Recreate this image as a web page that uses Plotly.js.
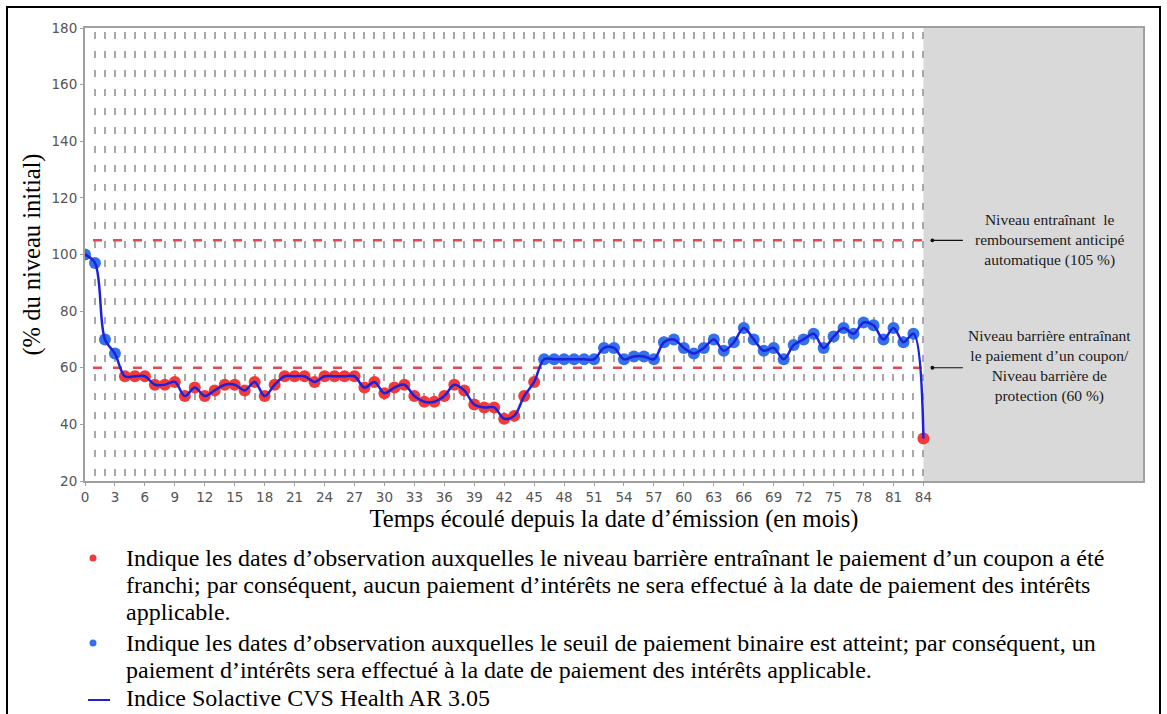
<!DOCTYPE html>
<html><head><meta charset="utf-8">
<script src="https://cdn.plot.ly/plotly-3.0.1.min.js"></script>
<style>html,body{margin:0;padding:0;background:#fff}#chart{width:1167px;height:714px}</style>
</head><body><div id="chart"></div>
<script>
// ---- data ----
const months = [0,1,2,3,4,5,6,7,8,9,10,11,12,13,14,15,16,17,18,19,20,21,22,23,24,25,26,27,28,29,30,31,32,33,34,35,36,37,38,39,40,41,42,43,44,45,46,47,48,49,50,51,52,53,54,55,56,57,58,59,60,61,62,63,64,65,66,67,68,69,70,71,72,73,74,75,76,77,78,79,80,81,82,83,84];
const levels = [100,97,70,65,57,57,57,54,54,55,50,53,50,52,54,54,52,55,50,54,57,57,57,55,57,57,57,57,53,55,51,53,54,50,48,48,50,54,52,47,46,46,42,43,50,55,63,63,63,63,63,63,67,67,63,64,64,63,69,70,67,65,67,70,66,69,74,70,66,67,63,68,70,72,67,71,74,72,76,75,70,74,69,72,35];
const xTickVals = [0,3,6,9,12,15,18,21,24,27,30,33,36,39,42,45,48,51,54,57,60,63,66,69,72,75,78,81,84];
const xTickText = ['0','3','6','9','12','15','18','21','24','27','30','33','36','39','42','45','48','51','54','57','60','63','66','69','72','75','78','81','84'];
const gridMonths = [1,2,3,4,5,6,7,8,9,10,11,12,13,14,15,16,17,18,19,20,21,22,23,24,25,26,27,28,29,30,31,32,33,34,35,36,37,38,39,40,41,42,43,44,45,46,47,48,49,50,51,52,53,54,55,56,57,58,59,60,61,62,63,64,65,66,67,68,69,70,71,72,73,74,75,76,77,78,79,80,81,82,83,84];
const yTickVals = [20,40,60,80,100,120,140,160,180];
const autocallLevel = 105;
const couponBarrier = 60;
const maturityMonth = 84;
const axisEndMonth = 106;
const autocallLabel = 'Niveau entraînant  le<br>remboursement anticipé<br>automatique (105 %)';
const barrierLabel = 'Niveau barrière entraînant<br>le paiement d’un coupon/<br>Niveau barrière de<br>protection (60 %)';
const legendRed = ['Indique les dates d’observation auxquelles le niveau barrière entraînant le paiement d’un coupon a été',
  'franchi; par conséquent, aucun paiement d’intérêts ne sera effectué à la date de paiement des intérêts',
  'applicable.'];
const legendBlue = ['Indique les dates d’observation auxquelles le seuil de paiement binaire est atteint; par conséquent, un',
  'paiement d’intérêts sera effectué à la date de paiement des intérêts applicable.'];
const legendLine = 'Indice Solactive CVS Health AR 3.05';
const xTitle = 'Temps écoulé depuis la date d’émission (en mois)';
const yTitle = '(% du niveau initial)';

// ---- style ----
const RED = '#f23a3a', BLUE_MK = '#3370ea', BLUE_LN = '#1c22dc', GRID = '#a8a8a8';
const L = 85, R = 1143, T = 28, B = 481;
const px = v => (v - L) / (R - L);
const py = v => (B - v) / (B - T);
const serif = 'Liberation Serif, Times New Roman, serif';

const markerColors = levels.map(v => v < couponBarrier ? RED : BLUE_MK);

const traces = [
  {x: months, y: levels, type: 'scatter', mode: 'markers',
   marker: {size: 12, color: markerColors, line: {width: 0}}, hoverinfo: 'skip', showlegend: false},
  {x: months, y: levels, type: 'scatter', mode: 'lines',
   line: {color: BLUE_LN, width: 2.5, shape: 'spline', smoothing: 1}, showlegend: false}
];

const shapes = [
  {type: 'rect', xref: 'x', yref: 'paper', x0: maturityMonth, x1: axisEndMonth, y0: 0, y1: 1,
   fillcolor: '#d9d9d9', line: {width: 0}, layer: 'below'},
  {type: 'line', xref: 'x', yref: 'y', x0: 0.8, x1: maturityMonth, y0: autocallLevel, y1: autocallLevel,
   line: {color: '#e8474f', width: 2.5, dash: '9px,11px'}, layer: 'between'},
  {type: 'line', xref: 'x', yref: 'y', x0: 0.8, x1: maturityMonth, y0: couponBarrier, y1: couponBarrier,
   line: {color: '#e8474f', width: 2.5, dash: '9px,11px'}, layer: 'between'},
  // outer frame
  {type: 'rect', xref: 'paper', yref: 'paper', x0: px(7), x1: px(1160), y0: py(730), y1: py(7),
   line: {color: '#000', width: 2}, fillcolor: 'rgba(0,0,0,0)', layer: 'above'},
  // legend symbols
  {type: 'circle', xref: 'paper', yref: 'paper', xsizemode: 'pixel', ysizemode: 'pixel',
   xanchor: px(93), yanchor: py(558), x0: -3.5, x1: 3.5, y0: -3.5, y1: 3.5, fillcolor: RED, line: {width: 0}},
  {type: 'circle', xref: 'paper', yref: 'paper', xsizemode: 'pixel', ysizemode: 'pixel',
   xanchor: px(93), yanchor: py(643), x0: -3.5, x1: 3.5, y0: -3.5, y1: 3.5, fillcolor: BLUE_MK, line: {width: 0}},
  {type: 'line', xref: 'paper', yref: 'paper', x0: px(88), x1: px(110), y0: py(700), y1: py(700),
   line: {color: BLUE_LN, width: 2}}
];

const annotations = [
  {xref: 'x', yref: 'y', x: maturityMonth + 0.9, y: autocallLevel, text: '', showarrow: true,
   ax: 32, ay: 0, arrowhead: 6, arrowsize: 0.8, arrowwidth: 1.2, arrowcolor: '#111'},
  {xref: 'x', yref: 'y', x: maturityMonth + 0.9, y: couponBarrier, text: '', showarrow: true,
   ax: 32, ay: 0, arrowhead: 6, arrowsize: 0.8, arrowwidth: 1.2, arrowcolor: '#111'},
  {xref: 'paper', yref: 'paper', x: px(1049), y: py(240), text: autocallLabel, showarrow: false,
   xanchor: 'center', yanchor: 'middle', align: 'center', font: {family: serif, size: 15.5, color: '#1a1a1a'}},
  {xref: 'paper', yref: 'paper', x: px(1049), y: py(366), text: barrierLabel, showarrow: false,
   xanchor: 'center', yanchor: 'middle', align: 'center', font: {family: serif, size: 15.5, color: '#1a1a1a'}}
];
const legendLines = [
  [legendRed[0], 558], [legendRed[1], 585], [legendRed[2], 612],
  [legendBlue[0], 643], [legendBlue[1], 670], [legendLine, 698]
];
legendLines.forEach(([t, yy]) => annotations.push({
  xref: 'paper', yref: 'paper', x: px(124), y: py(yy), text: t, showarrow: false,
  xanchor: 'left', yanchor: 'middle', align: 'left', font: {family: serif, size: 24, color: '#000'}
}));

const layout = {
  width: 1167, height: 714,
  margin: {l: L, r: 1167 - R, t: T, b: 714 - B},
  paper_bgcolor: '#fff', plot_bgcolor: '#fff',
  showlegend: false,
  xaxis: {
    range: [0, axisEndMonth], tickmode: 'array', tickvals: xTickVals, ticktext: xTickText,
    showgrid: true, gridcolor: GRID, gridwidth: 2, griddash: '0px,4px,7px,8px',
    minor: {tickmode: 'array', tickvals: gridMonths, showgrid: true, gridcolor: GRID, gridwidth: 2,
            griddash: '0px,4px,7px,8px', ticks: ''},
    showline: true, linecolor: '#a0a0a0', linewidth: 2, mirror: true,
    ticks: 'outside', ticklen: 3, tickcolor: '#a0a0a0', zeroline: false,
    tickfont: {family: 'DejaVu Sans, sans-serif', size: 13.5, color: '#555'},
    title: {text: xTitle, font: {family: serif, size: 24.5, color: '#000'}, standoff: 5}
  },
  yaxis: {
    range: [20, 180], tickmode: 'array', tickvals: yTickVals, showgrid: false,
    showline: true, linecolor: '#a0a0a0', linewidth: 2, mirror: true,
    ticks: 'outside', ticklen: 3, tickcolor: '#a0a0a0', zeroline: false,
    tickfont: {family: 'DejaVu Sans, sans-serif', size: 13.5, color: '#555'},
    title: {text: yTitle, font: {family: serif, size: 24.5, color: '#000'}, standoff: 4}
  },
  shapes: shapes,
  annotations: annotations
};

Plotly.newPlot('chart', traces, layout, {staticPlot: true, displayModeBar: false});
</script>
</body></html>
